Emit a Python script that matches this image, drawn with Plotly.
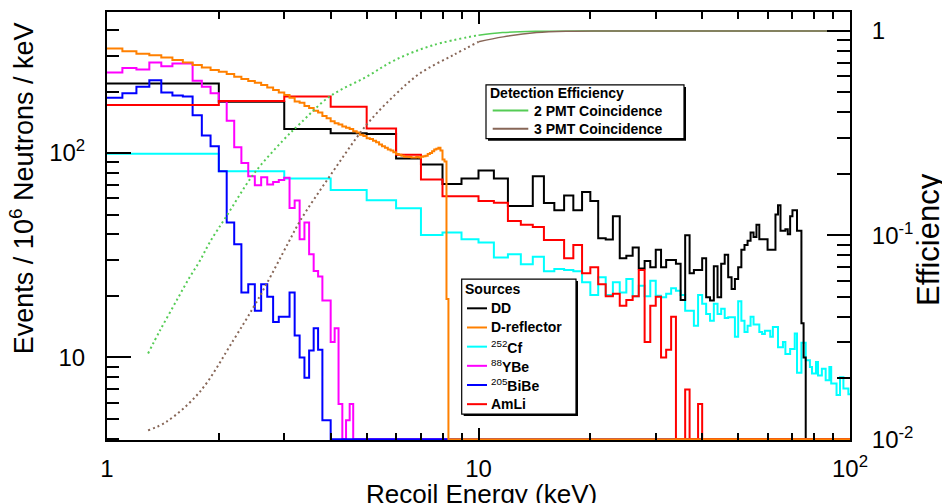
import numpy as np
import plotly.graph_objects as go

# ---- histogram binning (keV) ----
E_START = 1.0
E_END = 100.0
COARSE_W = 1.0   # DD, 252Cf, AmLi
FINE_W = 0.1     # D-reflector, 88YBe, 205BiBe

# events / 10^6 neutrons / keV, one value per bin starting at 1 keV
# (bins not listed are empty)
dd_vals = [219, 178, 131, 125, 124, 94, 87.8, 70.6, 75,
           82.1, 75, 55, 55, 77, 57, 52.5, 62, 52.5, 64.5,
           58.2, 38.3, 37.8, 49.1, 30.6, 31.4, 34.5, 27.2, 29.6, 27.6,
           33.6, 27.6, 30.0, 30.0, 28.7, 19.1, 39.6, 25.8, 26.8, 26.8,
           30.6, 19.7, 19.0, 27.9, 19.7, 28.7, 31.8, 24.7, 21.6, 24.2,
           27.6, 33.6, 35.5, 37.2, 40.8, 38.8, 44.6, 37.9, 37.9, 37.9,
           33.6, 33.6, 33.6, 50.1, 55.6, 41.6, 41.6, 42.4, 40.0, 49.1,
           52.5, 52.5, 41.6, 41.6, 14.7, 10.0]
cf_vals = [99.3, 81.5, 75, 66, 58.8, 53.7, 39.7, 40.8, 37.9,
           36.5, 30.8, 32.0, 28.6, 31.1, 26.4, 27.1, 26.8, 26.4, 23.3,
           20.2, 24.7, 20.2, 23.3, 20.8, 24.2, 19.9, 22.4, 19.9, 23.7,
           20.0, 19.7, 20.5, 21.8, 21.2, 20.2, 16.9, 16.9, 14.3, 20.2,
           18.3, 16.3, 15.1, 18.3, 16.3, 17.3, 15.6, 15.7, 15.7, 12.6,
           18.8, 15.1, 13.3, 14.3, 15.8, 14.5, 14.5, 13.3, 13.0, 13.5,
           13.5, 12.6, 14.1, 14.1, 11.2, 11.2, 11.9, 10.4, 10.4, 11.0,
           11.0, 13.1, 8.4, 8.4, 11.8, 11.8, 9.68, 9.68, 8.97, 8.33,
           8.33, 9.5, 8.15, 8.15, 8.8, 8.8, 7.73, 7.73, 8.97, 7.45,
           7.45, 7.45, 6.55, 6.55, 8.0, 8.0, 7.05, 7.05, 7.05, 6.6]
amli_vals = [172, 180, 189, 168.6, 132, 98, 74.2, 61.5, 61.5,
             58.2, 57.1, 46.5, 44.6, 43.5, 37.5, 37.5, 30.6, 35.5, 25.8,
             27.6, 22.8, 19.9, 20.5, 17.9, 19.1, 19.9, 26.8, 11.9, 17.9,
             19.8, 10.0, 10.9, 15.8, 0, 0, 6.96, 0, 0, 5.92]
# 0.1 keV bins starting at 1 keV
dref_vals = [325, 315, 306, 301, 293.5, 285, 277, 269.5, 262, 254.7,
             250, 243.6, 236.4, 230, 225.3, 221, 215.3, 209, 203.7, 197.6,
             192.5, 186.7, 178.6, 176, 170, 166, 161, 158, 152, 148,
             143, 140, 138, 135, 133, 131, 128, 126, 123, 121,
             118, 117, 115, 113, 110, 108, 106, 104, 103, 101,
             99, 98, 97, 96, 96, 95.5, 95, 95, 95.5, 95,
             96, 96.5, 97, 99, 100, 102, 104, 105, 106, 103,
             93, 91, 19.3]
ybe_vals = [248, 261, 256, 277, 266, 274, 274, 226, 211, 196,
            179, 144, 106.6, 89.4, 77, 69.6, 76.2, 70.2, 72.2, 73.9,
            75.6, 53.8, 58.6, 37.9, 45.7, 32.0, 26.5, 24.9, 19.0, 19.0,
            11.9, 13.9, 5.92, 0, 4.93, 5.92]
bibe_vals = [186.5, 196, 211, 227, 198, 191, 189, 153, 122, 108,
             81.5, 45.7, 35.8, 20.8, 22.8, 16.9, 22.8, 19.8, 14.9, 15.8,
             15.8, 20.8, 12.8, 9.99, 7.96, 10.8, 13.9, 10.9, 4.93, 4.93]

# ---- detection efficiency ----
eff2_e = [1.29, 1.39, 1.54, 1.67, 1.78, 1.89, 2.10, 2.48, 2.98, 3.31,
          3.98, 5.0, 5.96, 7.54, 10.0, 11.6, 14.3, 21.3, 100]
eff2 = [0.0264, 0.0343, 0.048, 0.0624, 0.0752, 0.0923, 0.1245, 0.199, 0.2915, 0.352,
        0.478, 0.597, 0.72, 0.851, 0.953, 0.981, 0.995, 1.0, 1.0]
eff3_e = [1.29, 1.45, 1.78, 2.19, 2.48, 2.69, 3.08, 3.31, 3.98, 5.0,
          5.96, 6.96, 8.55, 10.0, 11.65, 14.33, 17.63, 21.6, 100]
eff3 = [0.0111, 0.01227, 0.01718, 0.0307, 0.0445, 0.0579, 0.0923, 0.1177, 0.1948, 0.3477,
        0.4864, 0.6197, 0.7616, 0.884, 0.935, 0.981, 0.9966, 1.0, 1.0]

Y_LOG = [0.5957, 2.6902]
Y2_LOG = [-2.002, 0.0925]
# empty bins are drawn along the frame, like ROOT does (a hair above it so they stay visible)
Y_FLOOR = 10 ** (Y_LOG[0] + 0.004)

GREEN = "#55cc55"
BROWN = "#876657"


def hist_xy(vals, width):
    n_bins = int(round((E_END - E_START) / width))
    v = np.zeros(n_bins)
    v[:len(vals)] = vals
    v = np.where(v > 0, v, Y_FLOOR)
    edges = E_START + width * np.arange(n_bins + 1)
    return edges, np.append(v, v[-1])


# frame position on screen; the page keeps the browser's 8px body margin,
# so the figure is shrunk by that much to fit the window without scrollbars
OFF = 8
L, R, T, B = 107, 850, 10, 440
W, H = 950 - OFF, 503 - OFF


def px(x):
    return (x - L) / (R - L)


def py(y):
    return (B - y) / (B - T)


fig = go.Figure()

sources = [
    ("252Cf", cf_vals, COARSE_W, "#00ffff"),
    ("DD", dd_vals, COARSE_W, "#000000"),
    ("88YBe", ybe_vals, FINE_W, "#ff00ff"),
    ("205BiBe", bibe_vals, FINE_W, "#0000ff"),
    ("AmLi", amli_vals, COARSE_W, "#ff0000"),
    ("D-reflector", dref_vals, FINE_W, "#ff8000"),
]
for name, vals, w, col in sources:
    x, y = hist_xy(vals, w)
    fig.add_trace(go.Scatter(x=x, y=y, mode="lines", name=name,
                             line=dict(color=col, width=2, shape="hv"),
                             showlegend=False))

# efficiency: dotted below 10 keV, solid above
for name, e, eff, col in [("2 PMT Coincidence", eff2_e, eff2, GREEN),
                          ("3 PMT Coincidence", eff3_e, eff3, BROWN)]:
    e = np.asarray(e)
    eff = np.asarray(eff)
    lo = e <= 10.0
    hi = e >= 10.0
    fig.add_trace(go.Scatter(x=e[lo], y=eff[lo], mode="lines", name=name, yaxis="y2",
                             line=dict(color=col, width=2, dash="2px,3px", shape="spline"),
                             showlegend=False))
    fig.add_trace(go.Scatter(x=e[hi], y=eff[hi], mode="lines", name=name, yaxis="y2",
                             line=dict(color=col, width=1.5, shape="spline"),
                             showlegend=False))

FONT = "Liberation Sans, Arial, Helvetica, sans-serif"
tickfont = dict(family=FONT, size=24, color="black")

x_minor = [v * m for m in (1, 10) for v in range(2, 10)]
y_minor = [4, 5, 6, 7, 8, 9, 20, 30, 40, 50, 60, 70, 80, 90, 200, 300, 400]
y2_minor = [v * m for m in (0.01, 0.1) for v in range(2, 10)]

fig.update_layout(
    width=W, height=H,
    margin=dict(l=L - OFF, r=W - (R - OFF), t=T - OFF, b=H - (B - OFF)),
    paper_bgcolor="white", plot_bgcolor="white",
    font=dict(family=FONT, color="black"),
    xaxis=dict(type="log", range=[0, 2], showgrid=False, zeroline=False,
               showline=True, linecolor="black", linewidth=2, mirror="ticks",
               ticks="inside", ticklen=12, tickwidth=1.5, tickcolor="black",
               tickvals=[1, 10, 100], ticktext=["1", "10", "10<sup>2</sup>"],
               tickfont=tickfont, ticklabelstandoff=6,
               minor=dict(ticks="inside", ticklen=7, tickwidth=1.5, tickcolor="black",
                          tickvals=x_minor)),
    yaxis=dict(type="log", range=Y_LOG, showgrid=False, zeroline=False,
               showline=True, linecolor="black", linewidth=2,
               ticks="inside", ticklen=24, tickwidth=1.5, tickcolor="black",
               tickvals=[10, 100], ticktext=["10", "10<sup>2</sup>"],
               tickfont=tickfont, ticklabelstandoff=15,
               minor=dict(ticks="inside", ticklen=12, tickwidth=1.5, tickcolor="black",
                          tickvals=y_minor)),
    yaxis2=dict(type="log", range=Y2_LOG, overlaying="y", side="right",
                showgrid=False, zeroline=False,
                showline=True, linecolor="black", linewidth=2,
                ticks="inside", ticklen=23, tickwidth=1.5, tickcolor="black",
                tickvals=[0.01, 0.1, 1], ticktext=["10<sup>-2</sup>", "10<sup>-1</sup>", "1"],
                tickfont=tickfont, ticklabelstandoff=15,
                minor=dict(ticks="inside", ticklen=13, tickwidth=1.5, tickcolor="black",
                           tickvals=y2_minor)),
)

# axis titles
fig.add_annotation(text="Recoil Energy (keV)", x=px(481), y=py(494), xref="paper", yref="paper",
                   showarrow=False, xanchor="center", yanchor="middle",
                   font=dict(family=FONT, size=26))
fig.add_annotation(text="Events / 10<sup>6</sup> Neutrons / keV", x=px(21.5), y=py(187.5),
                   xref="paper", yref="paper", showarrow=False, textangle=-90,
                   xanchor="center", yanchor="middle", font=dict(family=FONT, size=27))
fig.add_annotation(text="Efficiency", x=px(929), y=py(238), xref="paper", yref="paper",
                   showarrow=False, textangle=-90, xanchor="center", yanchor="middle",
                   font=dict(family=FONT, size=31))


def legend_box(x0, y0, x1, y1):
    fig.add_shape(type="rect", xref="paper", yref="paper",
                  x0=px(x0 + 2), x1=px(x1 + 2), y0=py(y0 + 2), y1=py(y1 + 2),
                  fillcolor="black", line=dict(width=0))
    fig.add_shape(type="rect", xref="paper", yref="paper",
                  x0=px(x0), x1=px(x1), y0=py(y0), y1=py(y1),
                  fillcolor="white", line=dict(color="black", width=1.2))


def legend_text(text, x, y):
    fig.add_annotation(text=text, x=px(x), y=py(y), xref="paper", yref="paper",
                       showarrow=False, xanchor="left", yanchor="middle",
                       font=dict(family=FONT, size=14, color="black"))


def legend_line(x0, x1, y, col):
    fig.add_shape(type="line", xref="paper", yref="paper",
                  x0=px(x0), x1=px(x1), y0=py(y), y1=py(y),
                  line=dict(color=col, width=2))


# detection efficiency legend
legend_box(486, 83.3, 684, 137.3)
legend_text("<b>Detection Efficiency</b>", 488, 91)
for lab, col, yy in [("2 PMT Coincidence", GREEN, 109), ("3 PMT Coincidence", BROWN, 127.3)]:
    legend_line(492.7, 528.3, yy, col)
    legend_text("<b>" + lab + "</b>", 532, yy)

# sources legend
legend_box(461.7, 278.3, 576, 414)
legend_text("<b>Sources</b>", 462.5, 288)
src_legend = [("<b>DD</b>", "#000000"), ("<b>D-reflector</b>", "#ff8000"),
              ("<sup>252</sup><b>Cf</b>", "#00ffff"), ("<sup>88</sup><b>YBe</b>", "#ff00ff"),
              ("<sup>205</sup><b>BiBe</b>", "#0000ff"), ("<b>AmLi</b>", "#ff0000")]
for i, (lab, col) in enumerate(src_legend):
    yy = 307.7 + i * 19.26
    legend_line(467, 487, yy, col)
    legend_text(lab, 488.5, yy)

fig.write_html("out.html")
